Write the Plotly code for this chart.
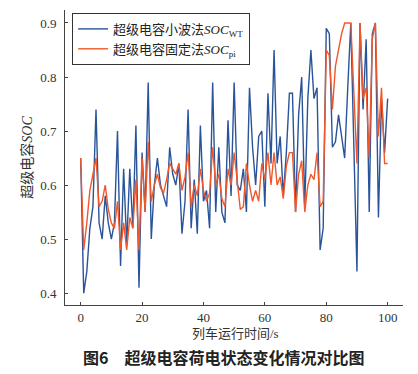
import plotly.graph_objects as go

time_s = list(range(0, 101))

soc_wt = [0.65, 0.40, 0.44, 0.52, 0.56, 0.74, 0.53, 0.50, 0.58, 0.53,
          0.50, 0.53, 0.70, 0.45, 0.63, 0.49, 0.63, 0.52, 0.71, 0.41,
          0.66, 0.55, 0.79, 0.50, 0.60, 0.65, 0.60, 0.58, 0.56, 0.67,
          0.62, 0.60, 0.64, 0.51, 0.57, 0.74, 0.52, 0.61, 0.51, 0.71,
          0.57, 0.59, 0.52, 0.79, 0.55, 0.67, 0.55, 0.53, 0.72, 0.58,
          0.79, 0.60, 0.59, 0.63, 0.55, 0.78, 0.67, 0.60, 0.69, 0.70,
          0.56, 0.77, 0.64, 0.85, 0.64, 0.69, 0.58, 0.66, 0.77, 0.77,
          0.55, 0.73, 0.80, 0.56, 0.76, 0.85, 0.76, 0.78, 0.48, 0.52,
          0.89, 0.88, 0.67, 0.68, 0.73, 0.69, 0.65, 0.78, 0.90, 0.67,
          0.44, 0.90, 0.74, 0.87, 0.55, 0.88, 0.90, 0.54, 0.76, 0.66,
          0.76]

soc_pi = [0.65, 0.48, 0.53, 0.59, 0.62, 0.65, 0.56, 0.57, 0.60, 0.555,
          0.53, 0.52, 0.57, 0.48, 0.53, 0.48, 0.54, 0.52, 0.61, 0.48,
          0.65, 0.55, 0.68, 0.57, 0.60, 0.62, 0.595, 0.585, 0.61, 0.64,
          0.63, 0.62, 0.64, 0.59, 0.615, 0.66, 0.56, 0.60, 0.58, 0.63,
          0.59, 0.57, 0.585, 0.67, 0.60, 0.62, 0.575, 0.56, 0.63, 0.60,
          0.66, 0.61, 0.555, 0.56, 0.64, 0.60, 0.57, 0.59, 0.57, 0.64,
          0.61, 0.66, 0.60, 0.66, 0.60, 0.615, 0.575, 0.635, 0.66, 0.66,
          0.55, 0.62, 0.645, 0.55, 0.60, 0.62, 0.61, 0.66, 0.56, 0.57,
          0.85, 0.84, 0.74, 0.82, 0.85, 0.88, 0.90, 0.90, 0.90, 0.77,
          0.64, 0.90, 0.76, 0.78, 0.65, 0.87, 0.90, 0.69, 0.78, 0.64,
          0.64]

x_ticks = [0, 20, 40, 60, 80, 100]
y_ticks = [0.4, 0.5, 0.6, 0.7, 0.8, 0.9]
y_tick_text = ["0.4", "0.5", "0.6", "0.7", "0.8", "0.9"]

name_wt = "超级电容小波法<i>SOC</i><sub>WT</sub>"
name_pi = "超级电容固定法<i>SOC</i><sub>pi</sub>"

SERIF = "Liberation Serif, Noto Sans CJK SC, serif"
CJK = "Noto Sans CJK SC, sans-serif"

fig = go.Figure()
fig.add_trace(go.Scatter(x=time_s, y=soc_wt, mode="lines", name=name_wt,
                         line=dict(color="#2A5499", width=1.4)))
fig.add_trace(go.Scatter(x=time_s, y=soc_pi, mode="lines", name=name_pi,
                         line=dict(color="#F0582A", width=1.4)))

axis_common = dict(showgrid=False, zeroline=False, showline=True,
                   linecolor="#444444", linewidth=1, ticks="inside",
                   ticklen=3, tickcolor="#444444", mirror=False,
                   automargin=False,
                   tickfont=dict(family=SERIF, size=13, color="#333333"))

fig.update_xaxes(range=[-5.1, 105], tickvals=x_ticks, **axis_common)
fig.update_yaxes(range=[0.378, 0.924], tickvals=y_ticks, ticktext=y_tick_text,
                 ticklabelstandoff=5,
                 title=dict(text="超级电容<i>SOC</i>",
                            font=dict(family=SERIF, size=14, color="#333333"),
                            standoff=4),
                 **axis_common)

fig.update_layout(
    width=418, height=374,
    margin=dict(l=65, r=15, t=10, b=69),
    paper_bgcolor="white", plot_bgcolor="white",
    showlegend=True,
    legend=dict(x=0.021, y=0.99, xanchor="left", yanchor="top",
                bgcolor="white", bordercolor="#333333", borderwidth=1,
                font=dict(family=SERIF, size=13, color="#222222"),
                tracegroupgap=0, itemwidth=30),
    annotations=[
        dict(text="列车运行时间/s", x=(235 - 65) / 338, y=(305 - 333) / 295,
             xref="paper", yref="paper", xanchor="center", yanchor="middle",
             showarrow=False,
             font=dict(family=SERIF, size=13, color="#333333")),
        dict(text="<b>图6　超级电容荷电状态变化情况对比图</b>",
             x=(223 - 65) / 338, y=(305 - 357) / 295,
             xref="paper", yref="paper", xanchor="center", yanchor="middle",
             showarrow=False,
             font=dict(family=CJK, size=16, color="#222222")),
    ],
)

fig.write_html("out.html", config={"displayModeBar": False},
               post_script="document.body.style.margin='0';")
